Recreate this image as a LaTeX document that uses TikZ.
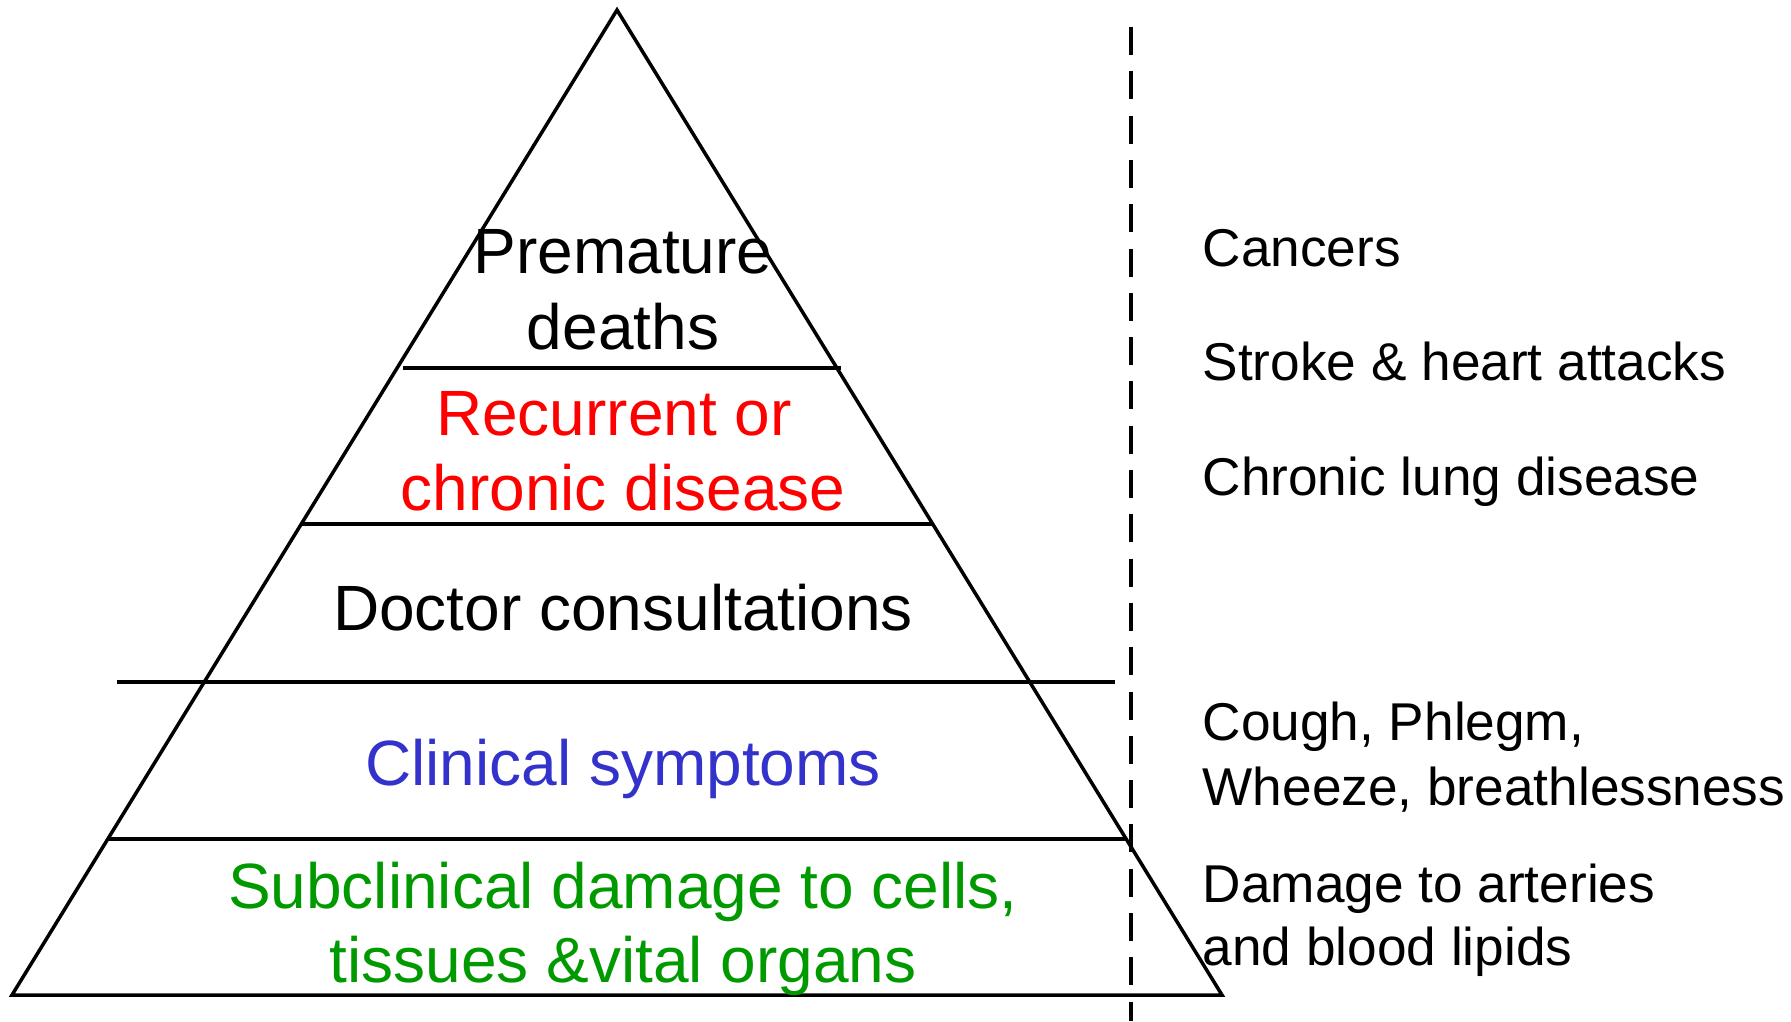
\documentclass[tikz,border=0pt]{standalone}
\usepackage{fontspec}
\setmainfont{Liberation Sans}
\definecolor{chronred}{RGB}{255,0,0}
\definecolor{clinblue}{RGB}{51,51,204}
\definecolor{subgreen}{RGB}{0,153,0}
\begin{document}
\begin{tikzpicture}[x=1pt,y=-1pt,
  edge/.style={line width=3.5pt,black},
  sepline/.style={line width=3.5pt,black},
  divider/.style={line width=3.6pt,black,dash pattern=on 28pt off 16.3pt},
  pyrtext/.style={anchor=base,inner sep=0pt,font=\fontsize{64}{75}\selectfont},
  sidetext/.style={anchor=base west,inner sep=0pt,font=\fontsize{53.2}{64}\selectfont}]
\useasboundingbox (0,0) rectangle (1791,1021);
% pyramid
\coordinate (apex) at (617,10);
\coordinate (bl) at (12,995);
\coordinate (br) at (1222,995);
\draw[edge,line join=miter] (apex) -- (br) -- (bl) -- cycle;
% separating lines
\coordinate (l1a) at (403,368);  \coordinate (l1b) at (841,368);
\coordinate (l2a) at (301,524);  \coordinate (l2b) at (933,524);
\coordinate (l3a) at (117,682);  \coordinate (l3b) at (1115,682);
\coordinate (l4a) at (108,839);  \coordinate (l4b) at (1126,839);
\draw[sepline] (l1a) -- (l1b);
\draw[sepline] (l2a) -- (l2b);
\draw[sepline] (l3a) -- (l3b);
\draw[sepline] (l4a) -- (l4b);
% dashed divider
\coordinate (dtop) at (1131,27);
\coordinate (dbot) at (1131,1021);
\draw[divider] (dtop) -- (dbot);
% pyramid texts
\node[pyrtext] (t1a) at (623,273) {Premature};
\node[pyrtext] (t1b) at (623,349) {deaths};
\node[pyrtext,text=chronred] (t2a) at (623,435) {Recurrent or\hspace*{0.28em}};
\node[pyrtext,text=chronred] (t2b) at (623,510) {chronic disease};
\node[pyrtext] (t3) at (623,630) {Doctor consultations};
\node[pyrtext,text=clinblue] (t4) at (623,785) {Clinical symptoms};
\node[pyrtext,text=subgreen] (t5a) at (623,908) {Subclinical damage to cells,};
\node[pyrtext,text=subgreen] (t5b) at (623,982) {tissues \&vital organs};
% side texts
\node[sidetext] (s1) at (1202.5,266) {Cancers};
\node[sidetext] (s2) at (1202.5,380) {Stroke \& heart attacks};
\node[sidetext] (s3) at (1202.5,495) {Chronic lung disease};
\node[sidetext] (s4a) at (1202.5,740) {Cough, Phlegm,};
\node[sidetext] (s4b) at (1202.5,805) {Wheeze, breathlessness};
\node[sidetext] (s5a) at (1202.5,902) {Damage to arteries};
\node[sidetext] (s5b) at (1202.5,965) {and blood lipids};
\end{tikzpicture}
\end{document}
